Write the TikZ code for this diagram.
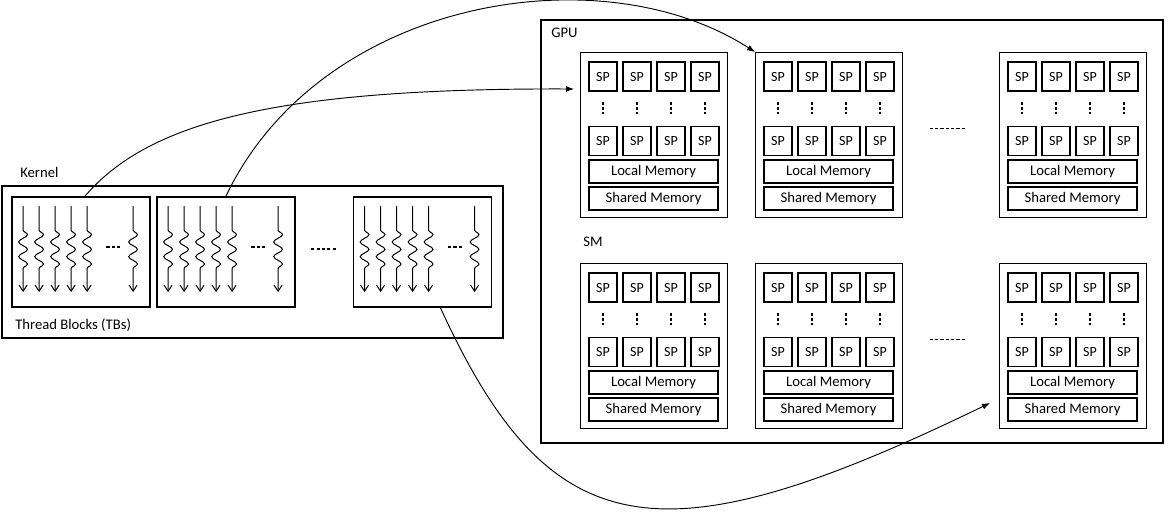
\documentclass[tikz,border=0pt]{standalone}
\usepackage{fontspec}
\setmainfont{Carlito}
\usetikzlibrary{calc}
\usetikzlibrary{arrows.meta}
\usetikzlibrary{decorations.pathmorphing}

\begin{document}
\begin{tikzpicture}[
    x=0.75pt, y=-0.75pt,
    black,
    font=\fontsize{11}{13}\selectfont,
    frame/.style={draw, line width=1.2pt, inner sep=0pt},
    tbbox/.style={draw, line width=1.4pt, minimum width=138*\px, minimum height=110*\px, inner sep=0pt},
    smbox/.style={draw, line width=1pt, minimum width=147*\px, minimum height=165*\px, inner sep=0pt, anchor=north west},
    spbox/.style={draw, line width=1.3pt, minimum width=28*\px, minimum height=29*\px, inner sep=0pt, font=\fontsize{10.5}{12}\selectfont},
    membox/.style={draw, line width=1.3pt, minimum width=129*\px, minimum height=23*\px, inner sep=0pt},
    caption/.style={anchor=west, inner sep=0pt},
    vdots/.style={line width=1.1pt, dash pattern=on 2pt off 1.5pt, shorten <=7.9pt, shorten >=7.9pt},
    hdots/.style={line width=1.1pt, dash pattern=on 2.4pt off 1.6pt},
    thread/.style={line width=0.75pt, -{Straight Barb[length=4.5pt,width=6pt]},
        decoration={snake, segment length=11pt, amplitude=3.3pt}},
    link/.style={line width=0.7pt, -{Latex[length=6pt,width=4.5pt]}},
    ]

    % Determines the boundries
    \path[use as bounding box] (0,0) rectangle (1166,515);

    \def\px{0.75pt}         % one pixel of the picture

    % One streaming multiprocessor, #1 name, #2 top left corner
    \def\smBlock#1#2{
    \begin{scope}[shift={(#2)}]
        \node[smbox] (#1) at (0,0) {};
        \foreach \i in {0,...,3}{
            \node[spbox] (#1-top\i) at (23+34*\i,24.5) {SP};
            \node[spbox] (#1-bot\i) at (23+34*\i,89)   {SP};
            \draw[vdots] (#1-top\i) -- (#1-bot\i);
        }
        \node[membox] (#1-local)  at (73.5,119.5) {Local Memory};
        \node[membox] (#1-shared) at (73.5,146.5) {Shared Memory};
    \end{scope}
    }

    % The kernel and its thread blocks
    \node[frame, minimum width=501*\px, minimum height=152*\px] (kernel) at (252.5,262) {};
    \node[caption] (kernelname) at (20,172) {Kernel};
    \node[caption] (tbname) at (15,325) {Thread Blocks (TBs)};

    \foreach \name/\cx in {tb1/81, tb2/226, tb3/422.5}{
        \node[tbbox] (\name) at (\cx,252) {};
        \foreach \i in {0,...,4}{
            \draw[thread] ($(\name.north west)+(12+16*\i,10)$) -- ++(0,24)
                decorate {-- ++(0,44)} -- ++(0,18);
        }
        \draw[thread] ($(\name.north west)+(122,10)$) -- ++(0,24)
            decorate {-- ++(0,44)} -- ++(0,18);
        \draw[hdots, line width=1.5pt, dash pattern=on 2.6pt off 1.5pt]
            ($(\name.north west)+(95,51)$) -- ++(15,0);
    }
    \draw[hdots] ($(tb2.east)!0.5!(tb3.west)+(-13,-3)$) -- ++(26,0);

    % The GPU with its SMs
    \node[frame, minimum width=622*\px, minimum height=423*\px] (gpu) at (852,231.5) {};
    \node[caption] (gpuname) at (551,33) {GPU};
    \node[caption] (smname) at (583,242) {SM};

    \foreach \row/\ty in {1/52, 2/263}{
        \foreach \col/\lx in {1/580, 2/755, 3/999}{
            \smBlock{sm\row\col}{\lx,\ty}
        }
        \draw[hdots] ($(sm\row2.east)!0.5!(sm\row3.west)+(-21.5,-6.5)$) -- ++(36,0);
    }

    % Thread blocks handed to the SMs
    \draw[link] ([xshift=3pt]tb1.north) .. controls +(62,-72) and +(-304,-1) ..
        ($(sm11.north west)+(-6,37)$);
    \draw[link] (tb2.north) .. controls +(94,-197) and +(-155,-100) .. (sm12.north west);
    \draw[link] ($(tb3.south)+(18,0)$) .. controls +(110,240) and +(-330,160) ..
        ($(sm23.north west)+(-9,140)$);
\end{tikzpicture}
\end{document}
